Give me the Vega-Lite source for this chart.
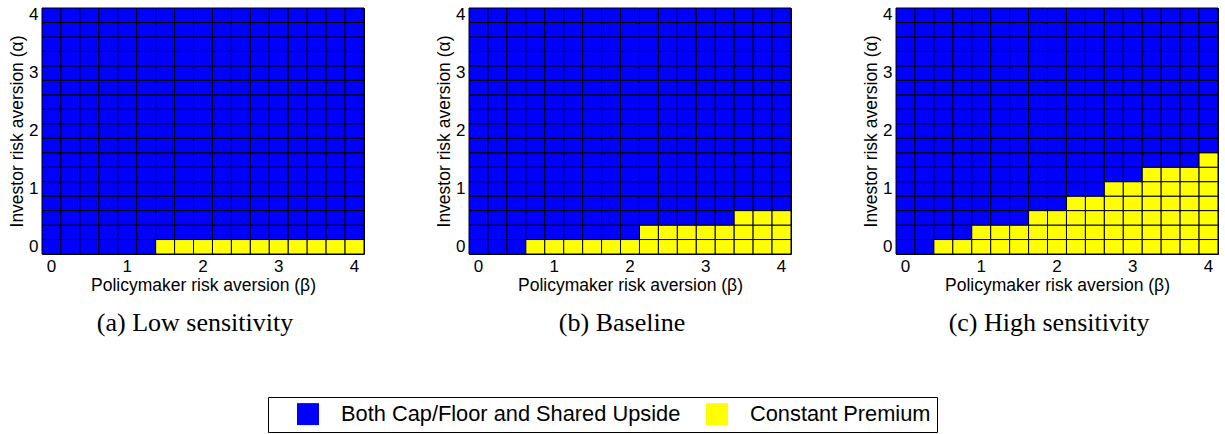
{
"$schema": "https://vega.github.io/schema/vega-lite/v6.json",
"padding": {"left": 8, "top": 5, "right": 5, "bottom": 5},
"data": {"values": "p,x,y,s\na,0,0,S\na,0.25,0,S\na,0.5,0,S\na,0.75,0,S\na,1,0,S\na,1.25,0,S\na,1.5,0,C\na,1.75,0,C\na,2,0,C\na,2.25,0,C\na,2.5,0,C\na,2.75,0,C\na,3,0,C\na,3.25,0,C\na,3.5,0,C\na,3.75,0,C\na,4,0,C\na,0,0.25,S\na,0.25,0.25,S\na,0.5,0.25,S\na,0.75,0.25,S\na,1,0.25,S\na,1.25,0.25,S\na,1.5,0.25,S\na,1.75,0.25,S\na,2,0.25,S\na,2.25,0.25,S\na,2.5,0.25,S\na,2.75,0.25,S\na,3,0.25,S\na,3.25,0.25,S\na,3.5,0.25,S\na,3.75,0.25,S\na,4,0.25,S\na,0,0.5,S\na,0.25,0.5,S\na,0.5,0.5,S\na,0.75,0.5,S\na,1,0.5,S\na,1.25,0.5,S\na,1.5,0.5,S\na,1.75,0.5,S\na,2,0.5,S\na,2.25,0.5,S\na,2.5,0.5,S\na,2.75,0.5,S\na,3,0.5,S\na,3.25,0.5,S\na,3.5,0.5,S\na,3.75,0.5,S\na,4,0.5,S\na,0,0.75,S\na,0.25,0.75,S\na,0.5,0.75,S\na,0.75,0.75,S\na,1,0.75,S\na,1.25,0.75,S\na,1.5,0.75,S\na,1.75,0.75,S\na,2,0.75,S\na,2.25,0.75,S\na,2.5,0.75,S\na,2.75,0.75,S\na,3,0.75,S\na,3.25,0.75,S\na,3.5,0.75,S\na,3.75,0.75,S\na,4,0.75,S\na,0,1,S\na,0.25,1,S\na,0.5,1,S\na,0.75,1,S\na,1,1,S\na,1.25,1,S\na,1.5,1,S\na,1.75,1,S\na,2,1,S\na,2.25,1,S\na,2.5,1,S\na,2.75,1,S\na,3,1,S\na,3.25,1,S\na,3.5,1,S\na,3.75,1,S\na,4,1,S\na,0,1.25,S\na,0.25,1.25,S\na,0.5,1.25,S\na,0.75,1.25,S\na,1,1.25,S\na,1.25,1.25,S\na,1.5,1.25,S\na,1.75,1.25,S\na,2,1.25,S\na,2.25,1.25,S\na,2.5,1.25,S\na,2.75,1.25,S\na,3,1.25,S\na,3.25,1.25,S\na,3.5,1.25,S\na,3.75,1.25,S\na,4,1.25,S\na,0,1.5,S\na,0.25,1.5,S\na,0.5,1.5,S\na,0.75,1.5,S\na,1,1.5,S\na,1.25,1.5,S\na,1.5,1.5,S\na,1.75,1.5,S\na,2,1.5,S\na,2.25,1.5,S\na,2.5,1.5,S\na,2.75,1.5,S\na,3,1.5,S\na,3.25,1.5,S\na,3.5,1.5,S\na,3.75,1.5,S\na,4,1.5,S\na,0,1.75,S\na,0.25,1.75,S\na,0.5,1.75,S\na,0.75,1.75,S\na,1,1.75,S\na,1.25,1.75,S\na,1.5,1.75,S\na,1.75,1.75,S\na,2,1.75,S\na,2.25,1.75,S\na,2.5,1.75,S\na,2.75,1.75,S\na,3,1.75,S\na,3.25,1.75,S\na,3.5,1.75,S\na,3.75,1.75,S\na,4,1.75,S\na,0,2,S\na,0.25,2,S\na,0.5,2,S\na,0.75,2,S\na,1,2,S\na,1.25,2,S\na,1.5,2,S\na,1.75,2,S\na,2,2,S\na,2.25,2,S\na,2.5,2,S\na,2.75,2,S\na,3,2,S\na,3.25,2,S\na,3.5,2,S\na,3.75,2,S\na,4,2,S\na,0,2.25,S\na,0.25,2.25,S\na,0.5,2.25,S\na,0.75,2.25,S\na,1,2.25,S\na,1.25,2.25,S\na,1.5,2.25,S\na,1.75,2.25,S\na,2,2.25,S\na,2.25,2.25,S\na,2.5,2.25,S\na,2.75,2.25,S\na,3,2.25,S\na,3.25,2.25,S\na,3.5,2.25,S\na,3.75,2.25,S\na,4,2.25,S\na,0,2.5,S\na,0.25,2.5,S\na,0.5,2.5,S\na,0.75,2.5,S\na,1,2.5,S\na,1.25,2.5,S\na,1.5,2.5,S\na,1.75,2.5,S\na,2,2.5,S\na,2.25,2.5,S\na,2.5,2.5,S\na,2.75,2.5,S\na,3,2.5,S\na,3.25,2.5,S\na,3.5,2.5,S\na,3.75,2.5,S\na,4,2.5,S\na,0,2.75,S\na,0.25,2.75,S\na,0.5,2.75,S\na,0.75,2.75,S\na,1,2.75,S\na,1.25,2.75,S\na,1.5,2.75,S\na,1.75,2.75,S\na,2,2.75,S\na,2.25,2.75,S\na,2.5,2.75,S\na,2.75,2.75,S\na,3,2.75,S\na,3.25,2.75,S\na,3.5,2.75,S\na,3.75,2.75,S\na,4,2.75,S\na,0,3,S\na,0.25,3,S\na,0.5,3,S\na,0.75,3,S\na,1,3,S\na,1.25,3,S\na,1.5,3,S\na,1.75,3,S\na,2,3,S\na,2.25,3,S\na,2.5,3,S\na,2.75,3,S\na,3,3,S\na,3.25,3,S\na,3.5,3,S\na,3.75,3,S\na,4,3,S\na,0,3.25,S\na,0.25,3.25,S\na,0.5,3.25,S\na,0.75,3.25,S\na,1,3.25,S\na,1.25,3.25,S\na,1.5,3.25,S\na,1.75,3.25,S\na,2,3.25,S\na,2.25,3.25,S\na,2.5,3.25,S\na,2.75,3.25,S\na,3,3.25,S\na,3.25,3.25,S\na,3.5,3.25,S\na,3.75,3.25,S\na,4,3.25,S\na,0,3.5,S\na,0.25,3.5,S\na,0.5,3.5,S\na,0.75,3.5,S\na,1,3.5,S\na,1.25,3.5,S\na,1.5,3.5,S\na,1.75,3.5,S\na,2,3.5,S\na,2.25,3.5,S\na,2.5,3.5,S\na,2.75,3.5,S\na,3,3.5,S\na,3.25,3.5,S\na,3.5,3.5,S\na,3.75,3.5,S\na,4,3.5,S\na,0,3.75,S\na,0.25,3.75,S\na,0.5,3.75,S\na,0.75,3.75,S\na,1,3.75,S\na,1.25,3.75,S\na,1.5,3.75,S\na,1.75,3.75,S\na,2,3.75,S\na,2.25,3.75,S\na,2.5,3.75,S\na,2.75,3.75,S\na,3,3.75,S\na,3.25,3.75,S\na,3.5,3.75,S\na,3.75,3.75,S\na,4,3.75,S\na,0,4,S\na,0.25,4,S\na,0.5,4,S\na,0.75,4,S\na,1,4,S\na,1.25,4,S\na,1.5,4,S\na,1.75,4,S\na,2,4,S\na,2.25,4,S\na,2.5,4,S\na,2.75,4,S\na,3,4,S\na,3.25,4,S\na,3.5,4,S\na,3.75,4,S\na,4,4,S\nb,0,0,S\nb,0.25,0,S\nb,0.5,0,S\nb,0.75,0,C\nb,1,0,C\nb,1.25,0,C\nb,1.5,0,C\nb,1.75,0,C\nb,2,0,C\nb,2.25,0,C\nb,2.5,0,C\nb,2.75,0,C\nb,3,0,C\nb,3.25,0,C\nb,3.5,0,C\nb,3.75,0,C\nb,4,0,C\nb,0,0.25,S\nb,0.25,0.25,S\nb,0.5,0.25,S\nb,0.75,0.25,S\nb,1,0.25,S\nb,1.25,0.25,S\nb,1.5,0.25,S\nb,1.75,0.25,S\nb,2,0.25,S\nb,2.25,0.25,C\nb,2.5,0.25,C\nb,2.75,0.25,C\nb,3,0.25,C\nb,3.25,0.25,C\nb,3.5,0.25,C\nb,3.75,0.25,C\nb,4,0.25,C\nb,0,0.5,S\nb,0.25,0.5,S\nb,0.5,0.5,S\nb,0.75,0.5,S\nb,1,0.5,S\nb,1.25,0.5,S\nb,1.5,0.5,S\nb,1.75,0.5,S\nb,2,0.5,S\nb,2.25,0.5,S\nb,2.5,0.5,S\nb,2.75,0.5,S\nb,3,0.5,S\nb,3.25,0.5,S\nb,3.5,0.5,C\nb,3.75,0.5,C\nb,4,0.5,C\nb,0,0.75,S\nb,0.25,0.75,S\nb,0.5,0.75,S\nb,0.75,0.75,S\nb,1,0.75,S\nb,1.25,0.75,S\nb,1.5,0.75,S\nb,1.75,0.75,S\nb,2,0.75,S\nb,2.25,0.75,S\nb,2.5,0.75,S\nb,2.75,0.75,S\nb,3,0.75,S\nb,3.25,0.75,S\nb,3.5,0.75,S\nb,3.75,0.75,S\nb,4,0.75,S\nb,0,1,S\nb,0.25,1,S\nb,0.5,1,S\nb,0.75,1,S\nb,1,1,S\nb,1.25,1,S\nb,1.5,1,S\nb,1.75,1,S\nb,2,1,S\nb,2.25,1,S\nb,2.5,1,S\nb,2.75,1,S\nb,3,1,S\nb,3.25,1,S\nb,3.5,1,S\nb,3.75,1,S\nb,4,1,S\nb,0,1.25,S\nb,0.25,1.25,S\nb,0.5,1.25,S\nb,0.75,1.25,S\nb,1,1.25,S\nb,1.25,1.25,S\nb,1.5,1.25,S\nb,1.75,1.25,S\nb,2,1.25,S\nb,2.25,1.25,S\nb,2.5,1.25,S\nb,2.75,1.25,S\nb,3,1.25,S\nb,3.25,1.25,S\nb,3.5,1.25,S\nb,3.75,1.25,S\nb,4,1.25,S\nb,0,1.5,S\nb,0.25,1.5,S\nb,0.5,1.5,S\nb,0.75,1.5,S\nb,1,1.5,S\nb,1.25,1.5,S\nb,1.5,1.5,S\nb,1.75,1.5,S\nb,2,1.5,S\nb,2.25,1.5,S\nb,2.5,1.5,S\nb,2.75,1.5,S\nb,3,1.5,S\nb,3.25,1.5,S\nb,3.5,1.5,S\nb,3.75,1.5,S\nb,4,1.5,S\nb,0,1.75,S\nb,0.25,1.75,S\nb,0.5,1.75,S\nb,0.75,1.75,S\nb,1,1.75,S\nb,1.25,1.75,S\nb,1.5,1.75,S\nb,1.75,1.75,S\nb,2,1.75,S\nb,2.25,1.75,S\nb,2.5,1.75,S\nb,2.75,1.75,S\nb,3,1.75,S\nb,3.25,1.75,S\nb,3.5,1.75,S\nb,3.75,1.75,S\nb,4,1.75,S\nb,0,2,S\nb,0.25,2,S\nb,0.5,2,S\nb,0.75,2,S\nb,1,2,S\nb,1.25,2,S\nb,1.5,2,S\nb,1.75,2,S\nb,2,2,S\nb,2.25,2,S\nb,2.5,2,S\nb,2.75,2,S\nb,3,2,S\nb,3.25,2,S\nb,3.5,2,S\nb,3.75,2,S\nb,4,2,S\nb,0,2.25,S\nb,0.25,2.25,S\nb,0.5,2.25,S\nb,0.75,2.25,S\nb,1,2.25,S\nb,1.25,2.25,S\nb,1.5,2.25,S\nb,1.75,2.25,S\nb,2,2.25,S\nb,2.25,2.25,S\nb,2.5,2.25,S\nb,2.75,2.25,S\nb,3,2.25,S\nb,3.25,2.25,S\nb,3.5,2.25,S\nb,3.75,2.25,S\nb,4,2.25,S\nb,0,2.5,S\nb,0.25,2.5,S\nb,0.5,2.5,S\nb,0.75,2.5,S\nb,1,2.5,S\nb,1.25,2.5,S\nb,1.5,2.5,S\nb,1.75,2.5,S\nb,2,2.5,S\nb,2.25,2.5,S\nb,2.5,2.5,S\nb,2.75,2.5,S\nb,3,2.5,S\nb,3.25,2.5,S\nb,3.5,2.5,S\nb,3.75,2.5,S\nb,4,2.5,S\nb,0,2.75,S\nb,0.25,2.75,S\nb,0.5,2.75,S\nb,0.75,2.75,S\nb,1,2.75,S\nb,1.25,2.75,S\nb,1.5,2.75,S\nb,1.75,2.75,S\nb,2,2.75,S\nb,2.25,2.75,S\nb,2.5,2.75,S\nb,2.75,2.75,S\nb,3,2.75,S\nb,3.25,2.75,S\nb,3.5,2.75,S\nb,3.75,2.75,S\nb,4,2.75,S\nb,0,3,S\nb,0.25,3,S\nb,0.5,3,S\nb,0.75,3,S\nb,1,3,S\nb,1.25,3,S\nb,1.5,3,S\nb,1.75,3,S\nb,2,3,S\nb,2.25,3,S\nb,2.5,3,S\nb,2.75,3,S\nb,3,3,S\nb,3.25,3,S\nb,3.5,3,S\nb,3.75,3,S\nb,4,3,S\nb,0,3.25,S\nb,0.25,3.25,S\nb,0.5,3.25,S\nb,0.75,3.25,S\nb,1,3.25,S\nb,1.25,3.25,S\nb,1.5,3.25,S\nb,1.75,3.25,S\nb,2,3.25,S\nb,2.25,3.25,S\nb,2.5,3.25,S\nb,2.75,3.25,S\nb,3,3.25,S\nb,3.25,3.25,S\nb,3.5,3.25,S\nb,3.75,3.25,S\nb,4,3.25,S\nb,0,3.5,S\nb,0.25,3.5,S\nb,0.5,3.5,S\nb,0.75,3.5,S\nb,1,3.5,S\nb,1.25,3.5,S\nb,1.5,3.5,S\nb,1.75,3.5,S\nb,2,3.5,S\nb,2.25,3.5,S\nb,2.5,3.5,S\nb,2.75,3.5,S\nb,3,3.5,S\nb,3.25,3.5,S\nb,3.5,3.5,S\nb,3.75,3.5,S\nb,4,3.5,S\nb,0,3.75,S\nb,0.25,3.75,S\nb,0.5,3.75,S\nb,0.75,3.75,S\nb,1,3.75,S\nb,1.25,3.75,S\nb,1.5,3.75,S\nb,1.75,3.75,S\nb,2,3.75,S\nb,2.25,3.75,S\nb,2.5,3.75,S\nb,2.75,3.75,S\nb,3,3.75,S\nb,3.25,3.75,S\nb,3.5,3.75,S\nb,3.75,3.75,S\nb,4,3.75,S\nb,0,4,S\nb,0.25,4,S\nb,0.5,4,S\nb,0.75,4,S\nb,1,4,S\nb,1.25,4,S\nb,1.5,4,S\nb,1.75,4,S\nb,2,4,S\nb,2.25,4,S\nb,2.5,4,S\nb,2.75,4,S\nb,3,4,S\nb,3.25,4,S\nb,3.5,4,S\nb,3.75,4,S\nb,4,4,S\nc,0,0,S\nc,0.25,0,S\nc,0.5,0,C\nc,0.75,0,C\nc,1,0,C\nc,1.25,0,C\nc,1.5,0,C\nc,1.75,0,C\nc,2,0,C\nc,2.25,0,C\nc,2.5,0,C\nc,2.75,0,C\nc,3,0,C\nc,3.25,0,C\nc,3.5,0,C\nc,3.75,0,C\nc,4,0,C\nc,0,0.25,S\nc,0.25,0.25,S\nc,0.5,0.25,S\nc,0.75,0.25,S\nc,1,0.25,C\nc,1.25,0.25,C\nc,1.5,0.25,C\nc,1.75,0.25,C\nc,2,0.25,C\nc,2.25,0.25,C\nc,2.5,0.25,C\nc,2.75,0.25,C\nc,3,0.25,C\nc,3.25,0.25,C\nc,3.5,0.25,C\nc,3.75,0.25,C\nc,4,0.25,C\nc,0,0.5,S\nc,0.25,0.5,S\nc,0.5,0.5,S\nc,0.75,0.5,S\nc,1,0.5,S\nc,1.25,0.5,S\nc,1.5,0.5,S\nc,1.75,0.5,C\nc,2,0.5,C\nc,2.25,0.5,C\nc,2.5,0.5,C\nc,2.75,0.5,C\nc,3,0.5,C\nc,3.25,0.5,C\nc,3.5,0.5,C\nc,3.75,0.5,C\nc,4,0.5,C\nc,0,0.75,S\nc,0.25,0.75,S\nc,0.5,0.75,S\nc,0.75,0.75,S\nc,1,0.75,S\nc,1.25,0.75,S\nc,1.5,0.75,S\nc,1.75,0.75,S\nc,2,0.75,S\nc,2.25,0.75,C\nc,2.5,0.75,C\nc,2.75,0.75,C\nc,3,0.75,C\nc,3.25,0.75,C\nc,3.5,0.75,C\nc,3.75,0.75,C\nc,4,0.75,C\nc,0,1,S\nc,0.25,1,S\nc,0.5,1,S\nc,0.75,1,S\nc,1,1,S\nc,1.25,1,S\nc,1.5,1,S\nc,1.75,1,S\nc,2,1,S\nc,2.25,1,S\nc,2.5,1,S\nc,2.75,1,C\nc,3,1,C\nc,3.25,1,C\nc,3.5,1,C\nc,3.75,1,C\nc,4,1,C\nc,0,1.25,S\nc,0.25,1.25,S\nc,0.5,1.25,S\nc,0.75,1.25,S\nc,1,1.25,S\nc,1.25,1.25,S\nc,1.5,1.25,S\nc,1.75,1.25,S\nc,2,1.25,S\nc,2.25,1.25,S\nc,2.5,1.25,S\nc,2.75,1.25,S\nc,3,1.25,S\nc,3.25,1.25,C\nc,3.5,1.25,C\nc,3.75,1.25,C\nc,4,1.25,C\nc,0,1.5,S\nc,0.25,1.5,S\nc,0.5,1.5,S\nc,0.75,1.5,S\nc,1,1.5,S\nc,1.25,1.5,S\nc,1.5,1.5,S\nc,1.75,1.5,S\nc,2,1.5,S\nc,2.25,1.5,S\nc,2.5,1.5,S\nc,2.75,1.5,S\nc,3,1.5,S\nc,3.25,1.5,S\nc,3.5,1.5,S\nc,3.75,1.5,S\nc,4,1.5,C\nc,0,1.75,S\nc,0.25,1.75,S\nc,0.5,1.75,S\nc,0.75,1.75,S\nc,1,1.75,S\nc,1.25,1.75,S\nc,1.5,1.75,S\nc,1.75,1.75,S\nc,2,1.75,S\nc,2.25,1.75,S\nc,2.5,1.75,S\nc,2.75,1.75,S\nc,3,1.75,S\nc,3.25,1.75,S\nc,3.5,1.75,S\nc,3.75,1.75,S\nc,4,1.75,S\nc,0,2,S\nc,0.25,2,S\nc,0.5,2,S\nc,0.75,2,S\nc,1,2,S\nc,1.25,2,S\nc,1.5,2,S\nc,1.75,2,S\nc,2,2,S\nc,2.25,2,S\nc,2.5,2,S\nc,2.75,2,S\nc,3,2,S\nc,3.25,2,S\nc,3.5,2,S\nc,3.75,2,S\nc,4,2,S\nc,0,2.25,S\nc,0.25,2.25,S\nc,0.5,2.25,S\nc,0.75,2.25,S\nc,1,2.25,S\nc,1.25,2.25,S\nc,1.5,2.25,S\nc,1.75,2.25,S\nc,2,2.25,S\nc,2.25,2.25,S\nc,2.5,2.25,S\nc,2.75,2.25,S\nc,3,2.25,S\nc,3.25,2.25,S\nc,3.5,2.25,S\nc,3.75,2.25,S\nc,4,2.25,S\nc,0,2.5,S\nc,0.25,2.5,S\nc,0.5,2.5,S\nc,0.75,2.5,S\nc,1,2.5,S\nc,1.25,2.5,S\nc,1.5,2.5,S\nc,1.75,2.5,S\nc,2,2.5,S\nc,2.25,2.5,S\nc,2.5,2.5,S\nc,2.75,2.5,S\nc,3,2.5,S\nc,3.25,2.5,S\nc,3.5,2.5,S\nc,3.75,2.5,S\nc,4,2.5,S\nc,0,2.75,S\nc,0.25,2.75,S\nc,0.5,2.75,S\nc,0.75,2.75,S\nc,1,2.75,S\nc,1.25,2.75,S\nc,1.5,2.75,S\nc,1.75,2.75,S\nc,2,2.75,S\nc,2.25,2.75,S\nc,2.5,2.75,S\nc,2.75,2.75,S\nc,3,2.75,S\nc,3.25,2.75,S\nc,3.5,2.75,S\nc,3.75,2.75,S\nc,4,2.75,S\nc,0,3,S\nc,0.25,3,S\nc,0.5,3,S\nc,0.75,3,S\nc,1,3,S\nc,1.25,3,S\nc,1.5,3,S\nc,1.75,3,S\nc,2,3,S\nc,2.25,3,S\nc,2.5,3,S\nc,2.75,3,S\nc,3,3,S\nc,3.25,3,S\nc,3.5,3,S\nc,3.75,3,S\nc,4,3,S\nc,0,3.25,S\nc,0.25,3.25,S\nc,0.5,3.25,S\nc,0.75,3.25,S\nc,1,3.25,S\nc,1.25,3.25,S\nc,1.5,3.25,S\nc,1.75,3.25,S\nc,2,3.25,S\nc,2.25,3.25,S\nc,2.5,3.25,S\nc,2.75,3.25,S\nc,3,3.25,S\nc,3.25,3.25,S\nc,3.5,3.25,S\nc,3.75,3.25,S\nc,4,3.25,S\nc,0,3.5,S\nc,0.25,3.5,S\nc,0.5,3.5,S\nc,0.75,3.5,S\nc,1,3.5,S\nc,1.25,3.5,S\nc,1.5,3.5,S\nc,1.75,3.5,S\nc,2,3.5,S\nc,2.25,3.5,S\nc,2.5,3.5,S\nc,2.75,3.5,S\nc,3,3.5,S\nc,3.25,3.5,S\nc,3.5,3.5,S\nc,3.75,3.5,S\nc,4,3.5,S\nc,0,3.75,S\nc,0.25,3.75,S\nc,0.5,3.75,S\nc,0.75,3.75,S\nc,1,3.75,S\nc,1.25,3.75,S\nc,1.5,3.75,S\nc,1.75,3.75,S\nc,2,3.75,S\nc,2.25,3.75,S\nc,2.5,3.75,S\nc,2.75,3.75,S\nc,3,3.75,S\nc,3.25,3.75,S\nc,3.5,3.75,S\nc,3.75,3.75,S\nc,4,3.75,S\nc,0,4,S\nc,0.25,4,S\nc,0.5,4,S\nc,0.75,4,S\nc,1,4,S\nc,1.25,4,S\nc,1.5,4,S\nc,1.75,4,S\nc,2,4,S\nc,2.25,4,S\nc,2.5,4,S\nc,2.75,4,S\nc,3,4,S\nc,3.25,4,S\nc,3.5,4,S\nc,3.75,4,S\nc,4,4,S",
  "format": {"type": "csv", "parse": {"x": "number", "y": "number"}}},
"spacing": 70,
"config": {
  "view": {"stroke": "black", "strokeWidth": 1},
  "font": "Liberation Sans",
  "axis": {"labelFont": "Liberation Sans", "labelFontSize": 17, "labelColor": "black", "titleFont": "Liberation Sans", "titleFontSize": 17.5, "titleFontWeight": "normal", "titleColor": "black", "ticks": false, "domain": false, "grid": false, "labelPadding": 4, "titlePadding": 2},
  "title": {"font": "Liberation Serif", "fontSize": 26, "fontWeight": "normal", "color": "black", "orient": "bottom", "anchor": "middle", "offset": 16, "dx": -8},
  "legend": {"orient": "none", "legendX": 226, "legendY": 389, "direction": "horizontal", "strokeColor": "black", "padding": 6, "symbolType": "square", "symbolSize": 484, "symbolStrokeWidth": 0, "symbolOpacity": 1, "labelFont": "Liberation Sans", "labelFontSize": 21.8, "labelColor": "black", "labelOffset": 22, "labelLimit": 0, "columnPadding": 2, "symbolOffset": 23, "titlePadding": 0}
},
"resolve": {"scale": {"color": "shared"}},
"hconcat": [
  {
    "width": 322, "height": 246,
    "title": {"text": "(a) Low sensitivity"},
    "transform": [{"filter": "datum.p == 'a'"}],
    "mark": {"type": "rect", "stroke": "black", "strokeWidth": 1},
    "encoding": {
      "x": {"field": "x", "type": "ordinal", "scale": {"paddingInner": 0, "paddingOuter": 0}, "axis": {"values": [0, 1, 2, 3, 4], "labelAngle": 0, "title": "Policymaker risk aversion (β)"}},
      "y": {"field": "y", "type": "ordinal", "sort": "descending", "scale": {"paddingInner": 0, "paddingOuter": 0}, "axis": {"values": [0, 1, 2, 3, 4], "title": "Investor risk aversion (α)"}},
      "color": {"field": "s", "type": "nominal", "scale": {"domain": ["S", "C"], "range": ["#0000ff", "#ffff00"]}, "legend": {"title": null, "labelExpr": "datum.label == 'S' ? 'Both Cap/Floor and Shared Upside' : 'Constant Premium'"}}
    }
  },
  {
    "width": 322, "height": 246,
    "title": {"text": "(b) Baseline"},
    "transform": [{"filter": "datum.p == 'b'"}],
    "mark": {"type": "rect", "stroke": "black", "strokeWidth": 1},
    "encoding": {
      "x": {"field": "x", "type": "ordinal", "scale": {"paddingInner": 0, "paddingOuter": 0}, "axis": {"values": [0, 1, 2, 3, 4], "labelAngle": 0, "title": "Policymaker risk aversion (β)"}},
      "y": {"field": "y", "type": "ordinal", "sort": "descending", "scale": {"paddingInner": 0, "paddingOuter": 0}, "axis": {"values": [0, 1, 2, 3, 4], "title": "Investor risk aversion (α)"}},
      "color": {"field": "s", "type": "nominal", "scale": {"domain": ["S", "C"], "range": ["#0000ff", "#ffff00"]}, "legend": {"title": null, "labelExpr": "datum.label == 'S' ? 'Both Cap/Floor and Shared Upside' : 'Constant Premium'"}}
    }
  },
  {
    "width": 322, "height": 246,
    "title": {"text": "(c) High sensitivity"},
    "transform": [{"filter": "datum.p == 'c'"}],
    "mark": {"type": "rect", "stroke": "black", "strokeWidth": 1},
    "encoding": {
      "x": {"field": "x", "type": "ordinal", "scale": {"paddingInner": 0, "paddingOuter": 0}, "axis": {"values": [0, 1, 2, 3, 4], "labelAngle": 0, "title": "Policymaker risk aversion (β)"}},
      "y": {"field": "y", "type": "ordinal", "sort": "descending", "scale": {"paddingInner": 0, "paddingOuter": 0}, "axis": {"values": [0, 1, 2, 3, 4], "title": "Investor risk aversion (α)"}},
      "color": {"field": "s", "type": "nominal", "scale": {"domain": ["S", "C"], "range": ["#0000ff", "#ffff00"]}, "legend": {"title": null, "labelExpr": "datum.label == 'S' ? 'Both Cap/Floor and Shared Upside' : 'Constant Premium'"}}
    }
  }
]
}
